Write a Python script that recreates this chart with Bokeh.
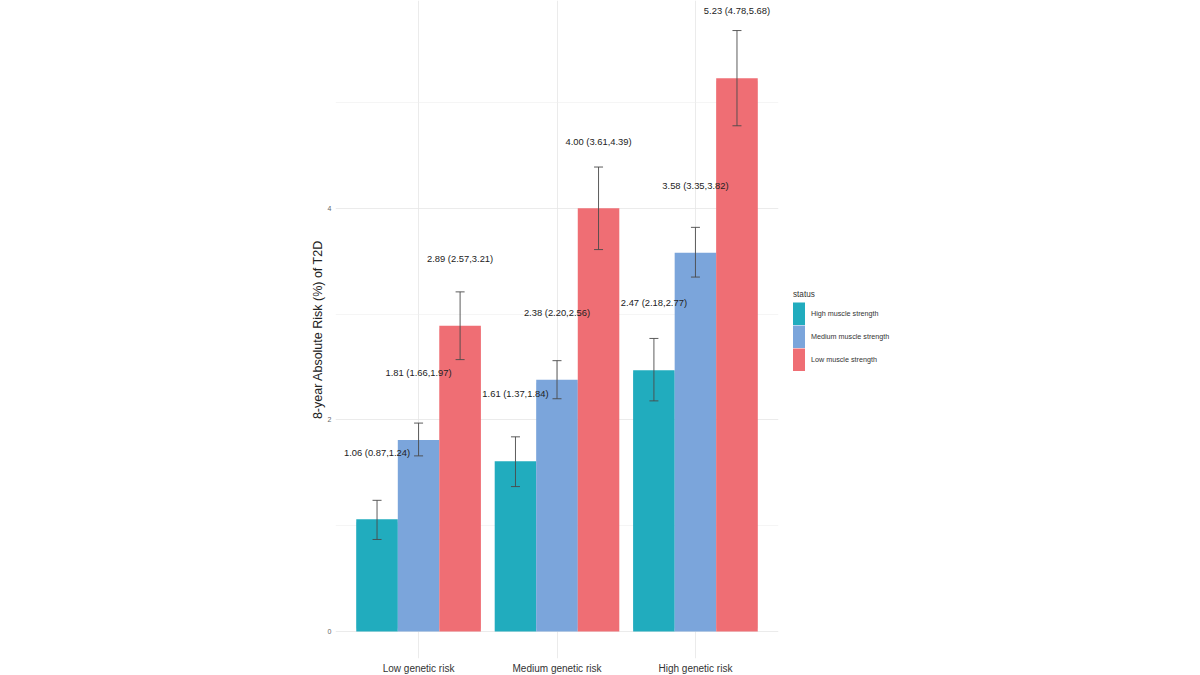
from bokeh.core.properties import value
from bokeh.embed import file_html
from bokeh.resources import INLINE
from bokeh.models import (ColumnDataSource, FactorRange, FixedTicker, Legend, LegendItem,
                          Range1d, TeeHead, Whisker)
from bokeh.plotting import figure
from bokeh.transform import dodge

groups = ["Low genetic risk", "Medium genetic risk", "High genetic risk"]
status = ["High muscle strength", "Medium muscle strength", "Low muscle strength"]
colors = ["#21ACBE", "#7BA5DB", "#EF6E74"]

high_val = [1.06, 1.61, 2.47]
high_lo = [0.87, 1.37, 2.18]
high_hi = [1.24, 1.84, 2.77]
med_val = [1.81, 2.38, 3.58]
med_lo = [1.66, 2.20, 3.35]
med_hi = [1.97, 2.56, 3.82]
low_val = [2.89, 4.00, 5.23]
low_lo = [2.57, 3.61, 4.78]
low_hi = [3.21, 4.39, 5.68]

series = [(high_val, high_lo, high_hi), (med_val, med_lo, med_hi), (low_val, low_lo, low_hi)]
offsets = [-0.3, 0.0, 0.3]
label_gap = 0.635
key_inset = 0.05

x_range = FactorRange(factors=groups, factor_padding=0, range_padding=0.1, range_padding_units="absolute")
p = figure(frame_width=443, frame_height=658, x_range=x_range, y_range=Range1d(-0.255, 5.964),
           output_backend="svg", toolbar_location=None,
           min_border_left=335, min_border_right=0, min_border_top=0, min_border_bottom=0)
p.outline_line_color = None
p.background_fill_color = "white"

grid = "#E6E6E6"
p.xgrid.grid_line_color = grid
p.xgrid.grid_line_width = 0.8
p.ygrid.grid_line_color = grid
p.ygrid.grid_line_width = 0.8
p.ygrid.ticker = FixedTicker(ticks=[0, 2, 4], minor_ticks=[1, 3, 5])
p.ygrid.minor_grid_line_color = "#EFEFEF"
p.ygrid.minor_grid_line_width = 0.6

p.yaxis.ticker = FixedTicker(ticks=[0, 2, 4])
p.yaxis.axis_line_color = None
p.xaxis.axis_line_color = None
p.yaxis.major_tick_line_color = None
p.xaxis.major_tick_line_color = None
p.yaxis.minor_tick_line_color = None
p.yaxis.major_tick_out = 0
p.xaxis.major_tick_out = 0
p.yaxis.major_label_text_font = "Liberation Sans"
p.yaxis.major_label_text_font_size = "7px"
p.yaxis.major_label_text_color = "#666666"
p.yaxis.major_label_standoff = 4
p.xaxis.major_label_text_font = "Liberation Sans"
p.xaxis.major_label_text_font_size = "10px"
p.xaxis.major_label_text_color = "#333333"
p.xaxis.major_label_standoff = 4
p.xaxis.major_label_text_line_height = 0.5
p.yaxis.axis_label = "8-year Absolute Risk (%) of T2D"
p.yaxis.axis_label_text_font = "Liberation Sans"
p.yaxis.axis_label_text_font_size = "12.5px"
p.yaxis.axis_label_text_font_style = "normal"
p.yaxis.axis_label_text_color = "#222222"
p.yaxis.axis_label_standoff = 0

items = []
sources = []
for i, (vals, los, his) in enumerate(series):
    texts = [f"{v:.2f} ({a:.2f},{b:.2f})" for v, a, b in zip(vals, los, his)]
    src = ColumnDataSource(dict(group=groups, val=vals, lo=los, hi=his, label=texts,
                                ly=[v + label_gap for v in vals],
                                key_top=[v - key_inset for v in vals],
                                key_bottom=[key_inset for v in vals]))
    sources.append(src)
    x = dodge("group", offsets[i], range=x_range)
    # key renderer sits hidden behind the real bar: its outline closes the inset Bokeh
    # puts around legend swatches, so the keys touch as in the reference
    key = p.vbar(x=x, top="key_top", bottom="key_bottom", width=0.26, source=src,
                 fill_color=colors[i], line_color=colors[i], line_width=4.6, line_join="miter")
    p.vbar(x=x, top="val", bottom=0, width=0.3, source=src,
           fill_color=colors[i], line_color=None)
    items.append(LegendItem(label=status[i], renderers=[key]))

for i, src in enumerate(sources):
    x = dodge("group", offsets[i], range=x_range)
    p.add_layout(Whisker(base=x, upper="hi", lower="lo", source=src, level="overlay",
                         line_color="#4A4A4A", line_width=0.9,
                         upper_head=TeeHead(size=9, line_color="#4A4A4A", line_width=0.9),
                         lower_head=TeeHead(size=9, line_color="#4A4A4A", line_width=0.9)))
    p.text(x=x, y="ly", text="label", source=src, text_align="center", text_baseline="middle",
           text_font=value("Liberation Sans"), text_font_size="9.4px",
           text_color="#222222", level="overlay")

legend = Legend(items=items, location=(15, 287), title="status", padding=0, margin=0, spacing=0,
                glyph_width=12, glyph_height=23, label_height=23, label_standoff=6,
                border_line_color=None, background_fill_alpha=0,
                label_text_font="Liberation Sans", label_text_font_size="7.2px",
                label_text_color="#333333", title_text_font="Liberation Sans",
                title_text_font_size="8.2px", title_text_font_style="normal",
                title_text_color="#333333", title_standoff=3)
p.add_layout(legend, "right")

open("out.html", "w").write(file_html(p, INLINE))
